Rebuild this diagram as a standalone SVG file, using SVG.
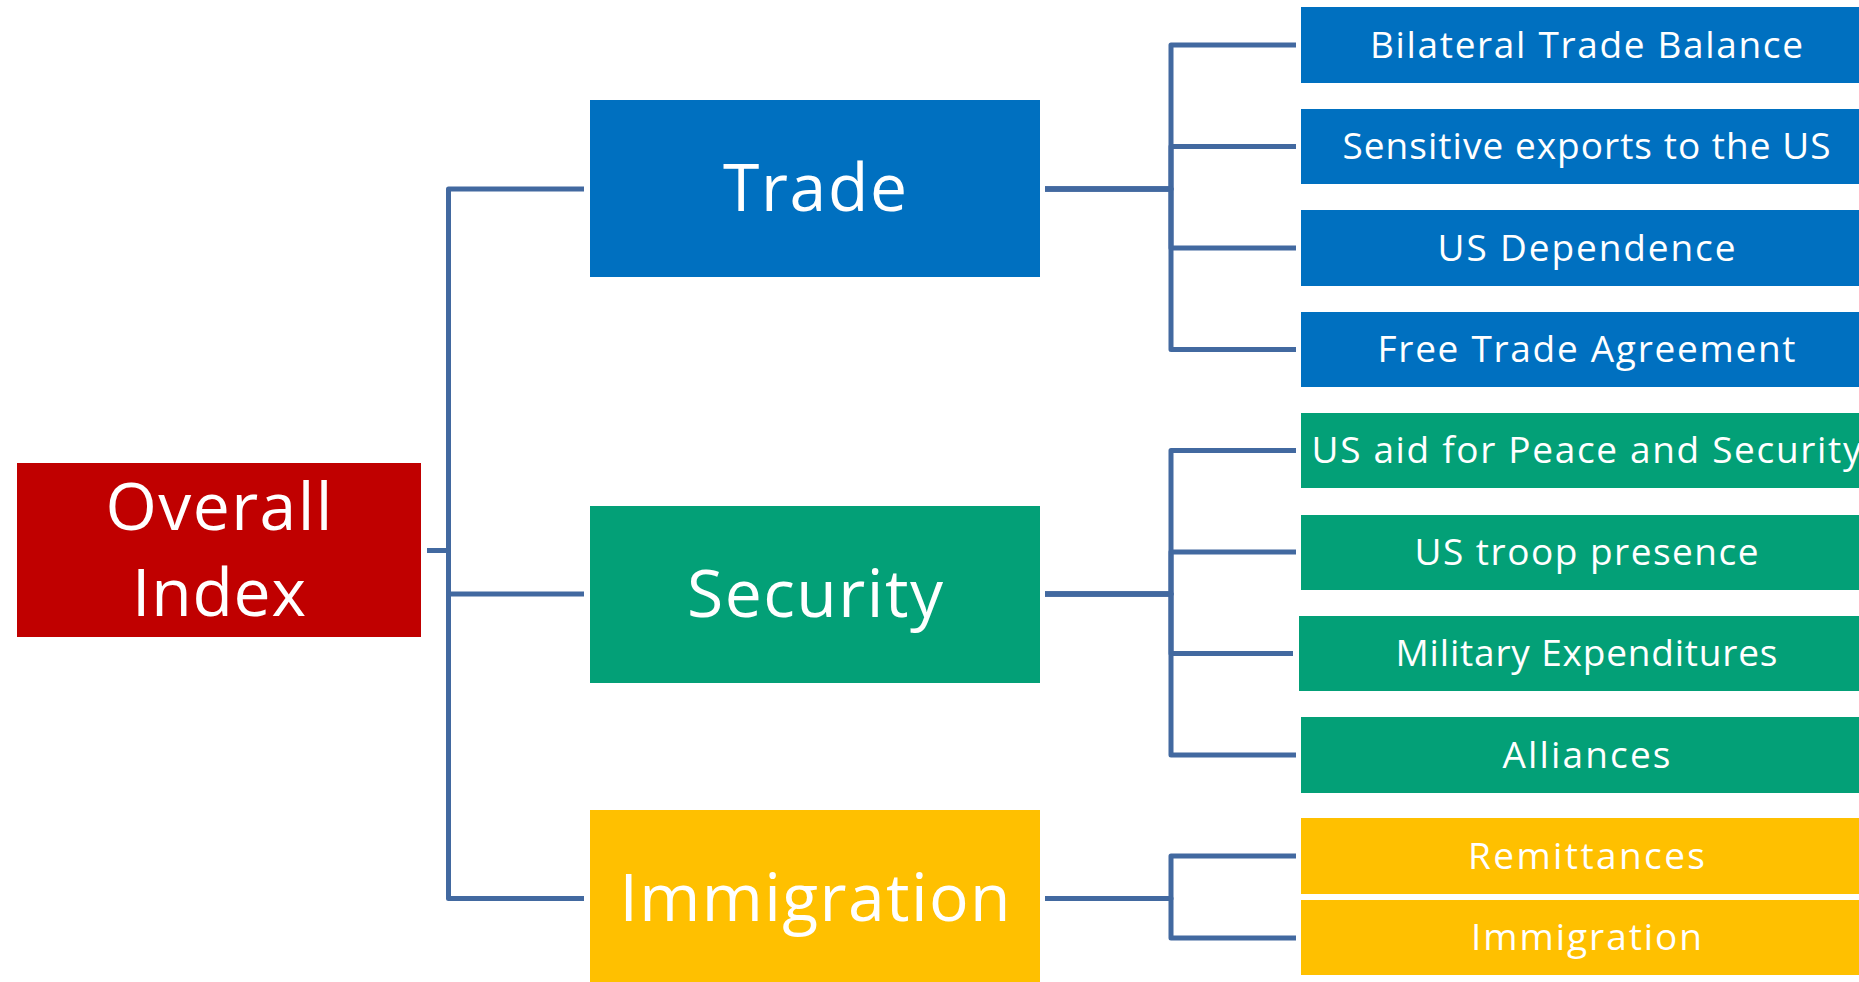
<svg xmlns="http://www.w3.org/2000/svg" width="1859" height="982" viewBox="0 0 1859 982">
  <style>
    .conn { fill: none; stroke: #4269A0; stroke-width: 5; stroke-linejoin: round; }
    .red { fill: #C00000; }
    .blue { fill: #0070C0; }
    .green { fill: #03A077; }
    .yellow { fill: #FFC000; }
    text { font-family: "Open Sans", "Noto Sans", "Liberation Sans", sans-serif; fill: #FFFFFF; text-anchor: middle; }
    .big { font-size: 66px; }
    .leaf { font-size: 37px; }
  </style>
  <rect width="1859" height="982" fill="#FFFFFF"/>

  <!-- elbow connectors -->
  <g id="connectors">
    <path class="conn" d="M427 550.5 H448.5 V189 H584"/>
    <path class="conn" d="M427 550.5 H448.5 V594 H584"/>
    <path class="conn" d="M427 550.5 H448.5 V898.5 H584"/>

    <path class="conn" d="M1045 189 H1171 V45 H1296"/>
    <path class="conn" d="M1045 189 H1171 V146.5 H1296"/>
    <path class="conn" d="M1045 189 H1171 V248 H1296"/>
    <path class="conn" d="M1045 189 H1171 V349.5 H1296"/>

    <path class="conn" d="M1045 594 H1171 V450.5 H1296"/>
    <path class="conn" d="M1045 594 H1171 V552 H1296"/>
    <path class="conn" d="M1045 594 H1171 V653.5 H1293"/>
    <path class="conn" d="M1045 594 H1171 V755 H1296"/>

    <path class="conn" d="M1045 898.5 H1171 V856 H1296"/>
    <path class="conn" d="M1045 898.5 H1171 V938 H1296"/>
  </g>

  <g id="overall">
    <rect class="red" x="17" y="463" width="404" height="174"/>
    <text class="big" x="219" y="530" textLength="227" lengthAdjust="spacing">Overall</text>
    <text class="big" x="219" y="615.5" textLength="174" lengthAdjust="spacing">Index</text>
  </g>

  <g id="trade">
    <rect class="blue" x="590" y="100" width="450" height="177"/>
    <text class="big" x="815" y="210.5" textLength="184" lengthAdjust="spacing">Trade</text>
  </g>
  <g id="security">
    <rect class="green" x="590" y="506" width="450" height="177"/>
    <text class="big" x="815" y="616.5" textLength="256" lengthAdjust="spacing">Security</text>
  </g>
  <g id="immigration">
    <rect class="yellow" x="590" y="810" width="450" height="177"/>
    <text class="big" x="815" y="921" textLength="391" lengthAdjust="spacing">Immigration</text>
  </g>

  <g id="bilateral-trade-balance">
    <rect class="blue" x="1301" y="7" width="572" height="76"/>
    <text class="leaf" x="1586.5" y="57.5" textLength="433" lengthAdjust="spacing">Bilateral Trade Balance</text>
  </g>
  <g id="sensitive-exports">
    <rect class="blue" x="1301" y="109" width="572" height="75"/>
    <text class="leaf" x="1586.5" y="159" textLength="488" lengthAdjust="spacing">Sensitive exports to the US</text>
  </g>
  <g id="us-dependence">
    <rect class="blue" x="1301" y="210" width="572" height="76"/>
    <text class="leaf" x="1586.5" y="260.5" textLength="298" lengthAdjust="spacing">US Dependence</text>
  </g>
  <g id="free-trade-agreement">
    <rect class="blue" x="1301" y="312" width="572" height="75"/>
    <text class="leaf" x="1586.5" y="362" textLength="418" lengthAdjust="spacing">Free Trade Agreement</text>
  </g>

  <g id="us-aid">
    <rect class="green" x="1301" y="413" width="572" height="75"/>
    <text class="leaf" x="1586.5" y="463" textLength="550" lengthAdjust="spacing">US aid for Peace and Security</text>
  </g>
  <g id="us-troop-presence">
    <rect class="green" x="1301" y="515" width="572" height="75"/>
    <text class="leaf" x="1586.5" y="564.5" textLength="344" lengthAdjust="spacing">US troop presence</text>
  </g>
  <g id="military-expenditures">
    <rect class="green" x="1299" y="616" width="574" height="75"/>
    <text class="leaf" x="1586.5" y="666" textLength="382" lengthAdjust="spacing">Military Expenditures</text>
  </g>
  <g id="alliances">
    <rect class="green" x="1301" y="717" width="572" height="76"/>
    <text class="leaf" x="1586.5" y="767.5" textLength="168" lengthAdjust="spacing">Alliances</text>
  </g>

  <g id="remittances">
    <rect class="yellow" x="1301" y="818" width="572" height="76"/>
    <text class="leaf" x="1586.5" y="868.5" textLength="237" lengthAdjust="spacing">Remittances</text>
  </g>
  <g id="immigration-leaf">
    <rect class="yellow" x="1301" y="900" width="572" height="75"/>
    <text class="leaf" x="1586.5" y="950" textLength="231" lengthAdjust="spacing">Immigration</text>
  </g>
</svg>
